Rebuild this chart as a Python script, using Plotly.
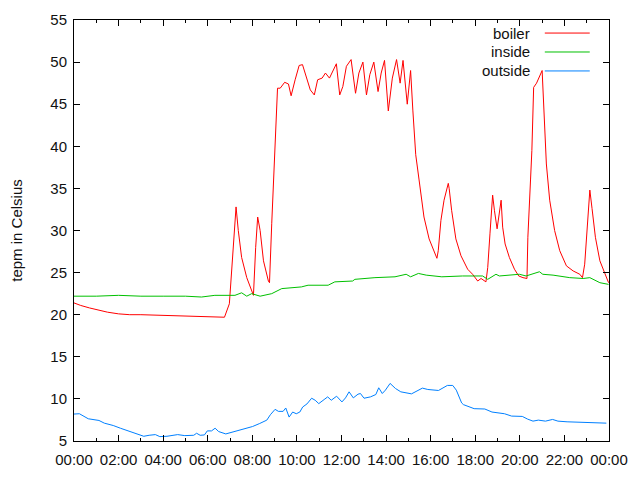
import plotly.graph_objects as go

# hours of day + temperature readings
boiler_h = [0.0, 0.3, 0.7, 1.0, 1.5, 2.0, 2.5, 3.0, 4.0, 5.0, 6.0, 6.75, 6.97, 7.15, 7.27,
            7.37, 7.52, 7.75, 8.05, 8.15, 8.24, 8.35, 8.5, 8.72, 8.77, 8.87, 8.95, 9.05,
            9.13, 9.25, 9.45, 9.62, 9.74, 9.92, 10.1, 10.25, 10.4, 10.6, 10.78, 10.93,
            11.13, 11.28, 11.46, 11.58, 11.77, 11.92, 12.06, 12.22, 12.43, 12.63, 12.78,
            12.96, 13.12, 13.27, 13.45, 13.64, 13.78, 13.93, 14.1, 14.28, 14.47, 14.63,
            14.76, 14.95, 15.1, 15.2, 15.33, 15.48, 15.7, 15.93, 16.16, 16.28, 16.34,
            16.46, 16.6, 16.79, 16.83, 16.94, 17.13, 17.36, 17.66, 17.88, 18.11, 18.26,
            18.48, 18.56, 18.66, 18.78, 18.86, 18.98, 19.16, 19.23, 19.34, 19.53, 19.76,
            19.95, 20.14, 20.32, 20.36, 20.44, 20.48, 20.54, 20.62, 20.75, 21.0, 21.19,
            21.34, 21.56, 21.79, 22.09, 22.39, 22.69, 22.81, 22.91, 23.02, 23.14, 23.24,
            23.39, 23.59, 23.82, 23.98]
boiler_t = [21.4, 21.1, 20.8, 20.6, 20.3, 20.1, 20.0, 20.0, 19.9, 19.8, 19.7, 19.7, 21.3,
            27.6, 32.8, 30.0, 26.8, 24.4, 22.3, 28.0, 31.6, 30.0, 26.4, 24.0, 23.8, 30.8,
            36.4, 42.7, 46.9, 46.9, 47.6, 47.4, 46.0, 47.9, 49.6, 49.7, 48.3, 46.7, 46.1,
            47.9, 48.1, 48.7, 48.1, 48.8, 49.8, 46.1, 47.1, 49.5, 50.3, 46.3, 48.7, 50.0,
            46.1, 48.5, 50.0, 46.5, 48.7, 50.2, 44.2, 48.1, 50.3, 47.5, 50.2, 45.0, 49.0,
            44.3, 39.0, 36.0, 31.6, 29.0, 27.6, 26.7, 27.6, 31.2, 33.6, 35.6, 35.0, 32.4,
            29.0, 27.0, 25.4, 24.8, 24.0, 24.3, 23.9, 25.6, 29.6, 34.2, 32.4, 30.2, 33.6,
            30.4, 28.4, 26.8, 25.4, 24.6, 24.4, 24.3, 29.2, 32.8, 36.0, 39.5, 47.0, 47.5,
            49.0, 37.9, 33.6, 30.0, 27.6, 25.8, 25.2, 24.8, 24.4, 26.0, 30.8, 34.8, 32.6,
            29.2, 26.4, 24.8, 23.8]

inside_h = [0, 1, 2, 3, 4, 5, 5.72, 6.32, 7.22, 7.52, 7.75, 7.97, 8.35, 8.87, 9.32, 10.2,
            10.5, 11.4, 11.7, 12.5, 12.6, 13.5, 14.4, 14.9, 15.1, 15.45, 15.8, 16.5, 17.43,
            18.33, 18.56, 18.93, 19.08, 19.98, 20.28, 20.88, 21.03, 21.49, 22.24, 22.84,
            23.14, 23.59, 23.98]
inside_t = [22.2, 22.2, 22.3, 22.2, 22.2, 22.2, 22.1, 22.3, 22.3, 22.6, 22.2, 22.5, 22.2,
            22.5, 23.1, 23.3, 23.5, 23.5, 23.9, 24.0, 24.2, 24.4, 24.5, 24.8, 24.5, 24.9,
            24.7, 24.5, 24.6, 24.6, 24.2, 24.8, 24.6, 24.8, 24.6, 25.1, 24.8, 24.7, 24.4,
            24.3, 24.4, 23.8, 23.6]

outside_h = [0, 0.24, 0.64, 1.12, 1.36, 1.76, 2.08, 2.56, 3.13, 3.37, 3.65, 3.85, 4.17,
             4.65, 4.97, 5.37, 5.5, 5.66, 5.85, 5.98, 6.17, 6.33, 6.49, 6.81, 7.13, 7.37,
             7.61, 8.01, 8.33, 8.65, 8.81, 9.02, 9.17, 9.38, 9.5, 9.65, 9.81, 9.97, 10.13,
             10.26, 10.45, 10.66, 10.82, 10.98, 11.22, 11.38, 11.54, 11.78, 12.02, 12.18,
             12.34, 12.53, 12.74, 12.85, 13.01, 13.3, 13.54, 13.67, 13.83, 13.97, 14.18,
             14.42, 14.66, 15.14, 15.63, 15.87, 16.35, 16.59, 16.75, 16.99, 17.15, 17.39,
             17.47, 17.95, 18.43, 18.75, 19.31, 19.63, 20.11, 20.35, 20.59, 20.83, 21.15,
             21.47, 21.71, 22.12, 22.6, 23.08, 23.88]
outside_t = [8.2, 8.24, 7.64, 7.44, 7.12, 6.84, 6.52, 6.04, 5.56, 5.68, 5.76, 5.52, 5.56,
             5.76, 5.64, 5.68, 5.92, 5.68, 5.72, 6.2, 6.2, 6.52, 6.12, 5.84, 6.08, 6.2, 6.4,
             6.72, 7.08, 7.48, 8.12, 8.76, 8.52, 8.52, 8.92, 7.84, 8.44, 8.24, 8.44, 9.04,
             9.4, 10.08, 9.84, 9.44, 9.92, 10.24, 9.84, 10.32, 9.64, 10.12, 10.84, 10.12,
             10.56, 10.64, 10.08, 10.24, 10.52, 11.32, 10.64, 11.04, 11.84, 11.24, 10.84,
             10.6, 11.28, 11.12, 11.0, 11.32, 11.6, 11.6, 11.04, 9.52, 9.32, 8.84, 8.8,
             8.44, 8.24, 7.96, 7.92, 7.6, 7.36, 7.48, 7.36, 7.56, 7.36, 7.28, 7.24, 7.12,
             7.12]

tick_hours = [0, 2, 4, 6, 8, 10, 12, 14, 16, 18, 20, 22, 24]
tick_labels = ["00:00", "02:00", "04:00", "06:00", "08:00", "10:00", "12:00",
               "14:00", "16:00", "18:00", "20:00", "22:00", "00:00"]

series = [("boiler", boiler_h, boiler_t, "#ff0000"),
          ("inside", inside_h, inside_t, "#00c000"),
          ("outside", outside_h, outside_t, "#0080ff")]

fig = go.Figure()
for name, xs, ys, col in series:
    fig.add_trace(go.Scatter(x=xs, y=ys, name=name, mode="lines",
                             line=dict(color=col, width=1), showlegend=False))

# gnuplot style key: text right-aligned, sample line to the right
key_y = [0.969, 0.924, 0.879]
for (name, xs, ys, col), ky in zip(series, key_y):
    fig.add_annotation(x=0.856, y=ky, xref="paper", yref="paper", text=name,
                       xanchor="right", yanchor="middle", showarrow=False,
                       font=dict(size=15, color="#111"))
    fig.add_shape(type="line", xref="paper", yref="paper", x0=0.880, x1=0.964,
                  y0=ky, y1=ky, line=dict(color=col, width=1))

axis_common = dict(showline=True, linecolor="black", linewidth=1, mirror="ticks",
                   ticks="inside", tickcolor="black", showgrid=False, zeroline=False,
                   automargin=False, tickfont=dict(size=15, color="#111"))

fig.update_xaxes(range=[0, 24], tickvals=tick_hours, ticktext=tick_labels, ticklen=6,
                 ticklabelstandoff=5,
                 minor=dict(dtick=1, ticks="inside", ticklen=3, tickcolor="black"),
                 **axis_common)
fig.update_yaxes(range=[5, 55], dtick=5, ticklen=6, ticklabelstandoff=3,
                 title=dict(text="tepm in Celsius", font=dict(size=15, color="#111"),
                            standoff=27),
                 **axis_common)

# page body adds an 8px offset, margins trimmed to compensate
fig.update_layout(width=640, height=480,
                  margin=dict(l=66, r=39, t=12, b=47),
                  paper_bgcolor="white", plot_bgcolor="white",
                  font=dict(family="Liberation Sans, Arial, sans-serif"))

fig.write_html("out.html")
